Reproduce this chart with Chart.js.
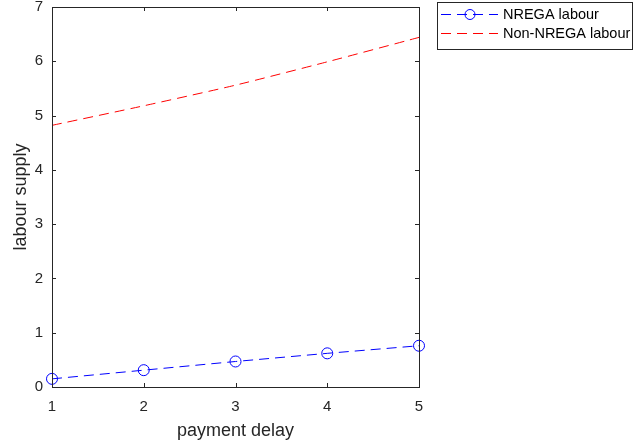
<!DOCTYPE html>
<html>
<head>
<meta charset="utf-8">
<script src="https://cdn.jsdelivr.net/npm/chart.js@4"></script>
<style>
html,body{margin:0;padding:0;background:#fff;}
#wrap{width:633px;height:446px;position:relative;}
</style>
</head>
<body>
<div id="wrap"><canvas id="c" width="633" height="446"></canvas></div>
<script>
const delays = [1, 2, 3, 4, 5];
const nregaLabour = [0.15, 0.31, 0.47, 0.62, 0.76];
const nonNregaLabour = [4.82, 5.18, 5.56, 5.99, 6.44];
const yTicks = [0, 1, 2, 3, 4, 5, 6, 7];
const xTicks = [1, 2, 3, 4, 5];
const seriesNames = ['NREGA labour', 'Non-NREGA labour'];
const seriesColors = ['#0000ff', '#ff0000'];
const xTitle = 'payment delay';
const yTitle = 'labour supply';

const AX = '#262626';
const FONT = '"Liberation Sans", Arial, sans-serif';

const boxPlugin = {
  id: 'boxPlugin',
  afterDraw(chart) {
    const {ctx, chartArea: a, scales: {x, y}} = chart;
    ctx.save();
    ctx.strokeStyle = AX;
    ctx.lineWidth = 1;
    ctx.strokeRect(Math.round(a.left) + 0.5, Math.round(a.top) + 0.5, Math.round(a.right - a.left), Math.round(a.bottom - a.top));
    const tl = 4;
    ctx.beginPath();
    yTicks.forEach(v => {
      const py = Math.round(y.getPixelForValue(v)) + 0.5;
      ctx.moveTo(a.left, py); ctx.lineTo(a.left + tl, py);
      ctx.moveTo(a.right, py); ctx.lineTo(a.right - tl, py);
    });
    xTicks.forEach(v => {
      const px = Math.round(x.getPixelForValue(v)) + 0.5;
      ctx.moveTo(px, a.bottom); ctx.lineTo(px, a.bottom - tl);
      ctx.moveTo(px, a.top); ctx.lineTo(px, a.top + tl);
    });
    ctx.stroke();

    // legend
    const lx = 437.5, ly = 2.5, lw = 195, lh = 47;
    ctx.fillStyle = '#fff';
    ctx.fillRect(lx, ly, lw, lh);
    ctx.strokeStyle = AX;
    ctx.strokeRect(lx, ly, lw, lh);
    const rows = [14, 33];
    seriesNames.forEach((name, i) => {
      const ry = rows[i] + 0.5;
      ctx.strokeStyle = seriesColors[i];
      ctx.lineWidth = 1;
      ctx.setLineDash([10, 6]);
      ctx.beginPath();
      ctx.moveTo(441, ry); ctx.lineTo(498, ry);
      ctx.stroke();
      ctx.setLineDash([]);
      if (i === 0) {
        ctx.beginPath();
        ctx.arc(470, ry, 5, 0, Math.PI * 2);
        ctx.stroke();
      }
      ctx.fillStyle = '#000';
      ctx.font = '14.5px ' + FONT;
      ctx.textBaseline = 'middle';
      ctx.textAlign = 'left';
      ctx.fillText(name, 503, ry);
    });
    ctx.restore();
  }
};

new Chart(document.getElementById('c'), {
  type: 'line',
  data: {
    datasets: [
      {
        label: seriesNames[0],
        data: delays.map((d, i) => ({x: d, y: nregaLabour[i]})),
        borderColor: seriesColors[0],
        backgroundColor: 'rgba(0,0,0,0)',
        borderWidth: 1,
        borderDash: [10, 6],
        pointRadius: 5.5,
        pointBorderWidth: 1,
        pointBackgroundColor: 'rgba(0,0,0,0)',
        pointBorderColor: seriesColors[0],
        tension: 0,
        clip: false
      },
      {
        label: seriesNames[1],
        data: delays.map((d, i) => ({x: d, y: nonNregaLabour[i]})),
        borderColor: seriesColors[1],
        backgroundColor: 'rgba(0,0,0,0)',
        borderWidth: 1,
        borderDash: [10, 6],
        pointRadius: 0,
        tension: 0.2,
        clip: false
      }
    ]
  },
  options: {
    responsive: false,
    animation: false,
    events: [],
    layout: {padding: {left: 0, top: 7, right: 214, bottom: 0}},
    plugins: {legend: {display: false}, tooltip: {enabled: false}},
    scales: {
      x: {
        type: 'linear', min: 1, max: 5,
        afterBuildTicks: s => { s.ticks = xTicks.map(v => ({value: v})); },
        afterFit: s => { s.height = 59; s.paddingLeft = 0; s.paddingRight = 0; },
        grid: {display: false, drawTicks: false},
        border: {display: false},
        ticks: {color: AX, font: {family: FONT, size: 15}, padding: 11},
        title: {display: true, text: xTitle, color: AX, font: {family: FONT, size: 18}, padding: {top: 2}}
      },
      y: {
        type: 'linear', min: 0, max: 7,
        afterBuildTicks: s => { s.ticks = yTicks.map(v => ({value: v})); },
        afterFit: s => { s.width = 52; s.paddingTop = 0; s.paddingBottom = 0; },
        grid: {display: false, drawTicks: false},
        border: {display: false},
        ticks: {color: AX, font: {family: FONT, size: 15}, padding: 9},
        title: {display: true, text: yTitle, color: AX, font: {family: FONT, size: 18}, padding: {top: 10, bottom: 0}}
      }
    }
  },
  plugins: [boxPlugin]
});
</script>
</body>
</html>
